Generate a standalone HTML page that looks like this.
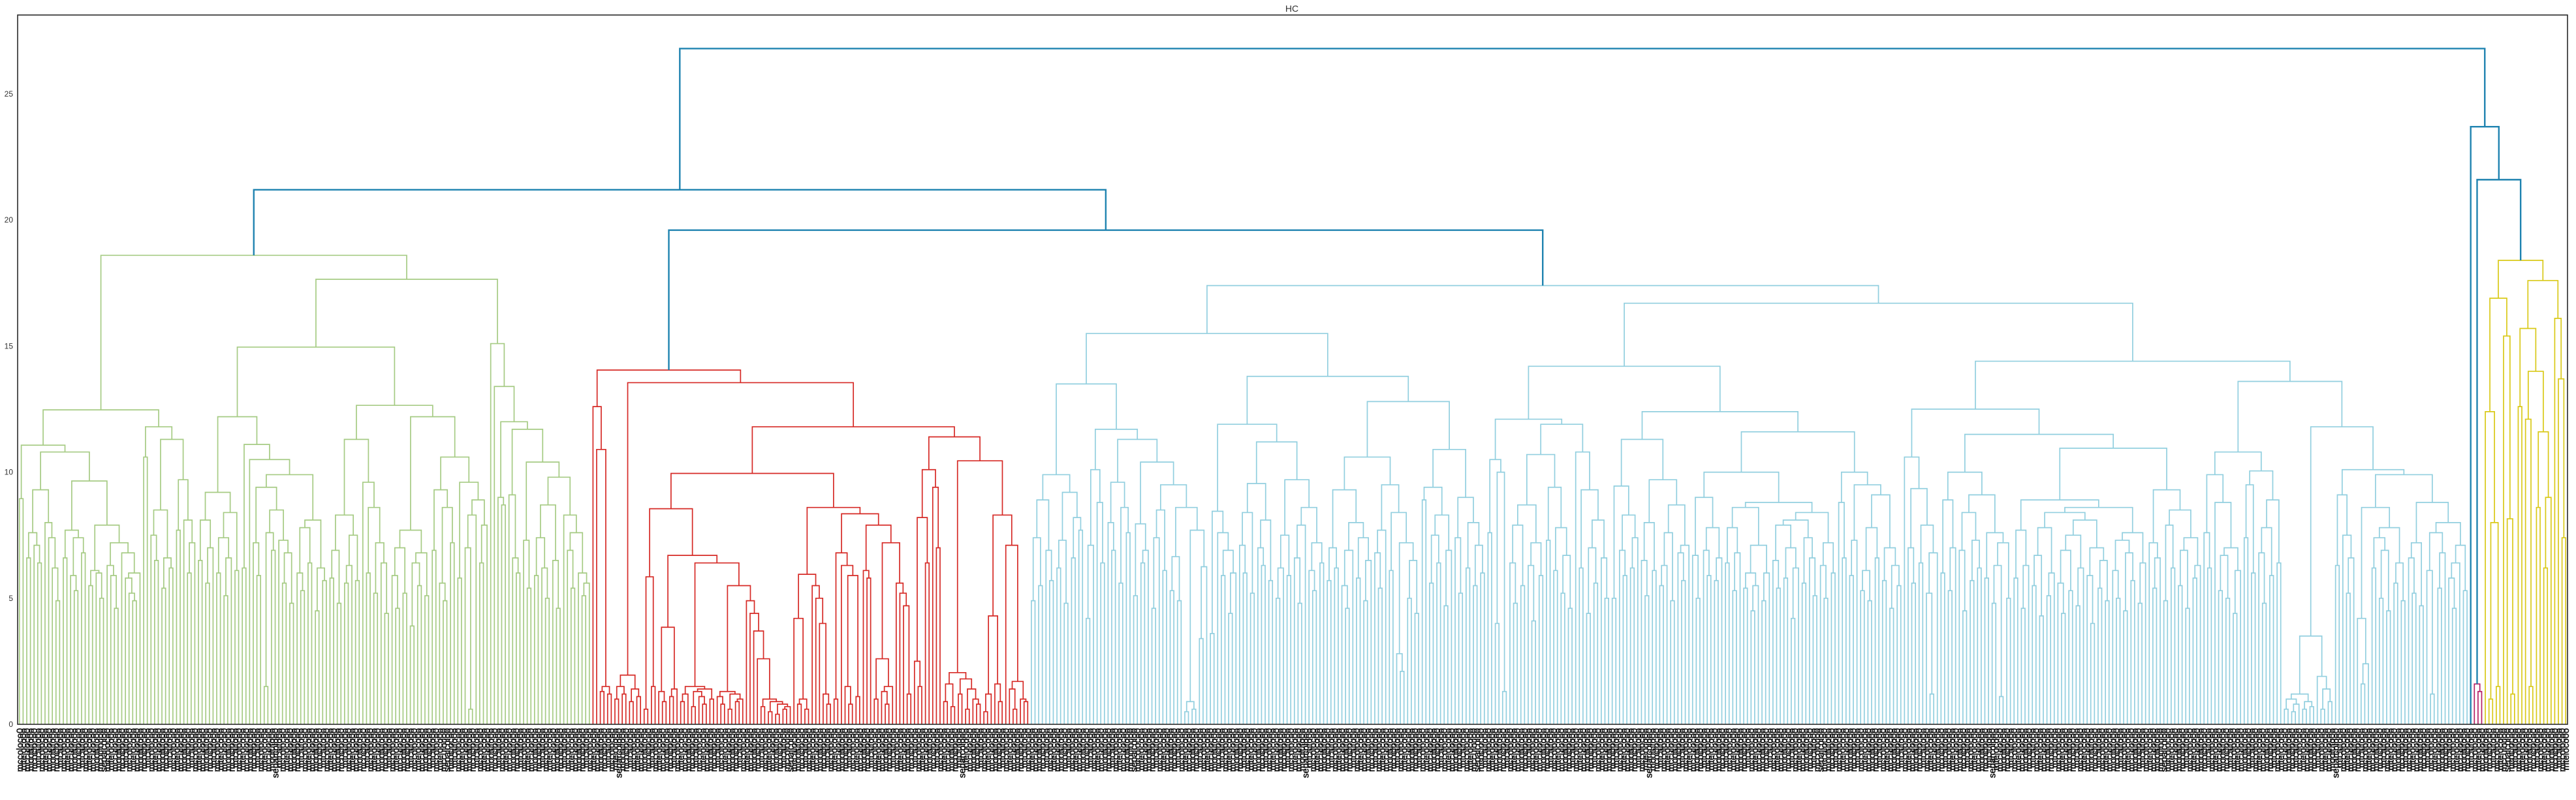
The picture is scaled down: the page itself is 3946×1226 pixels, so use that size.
<!DOCTYPE html>
<html><head><meta charset="utf-8"><title>HC</title>
<style>
html,body{margin:0;padding:0;background:#fff;}
svg{display:block;font-family:"Liberation Sans",sans-serif;}
</style></head>
<body>
<svg id="chart" width="3946" height="1226" viewBox="0 0 3946 1226" xmlns="http://www.w3.org/2000/svg">
<rect x="0" y="0" width="3946" height="1226" fill="#ffffff"/>
<text x="1979" y="18" font-size="14" fill="#333" text-anchor="middle">HC</text>
<g id="links" fill="none"></g>
<g id="yaxis"></g>
<g id="leaflabels"></g>
<rect x="27" y="23" width="3906" height="1087" fill="none" stroke="#2a2a2a" stroke-width="1.6"/>
</svg>
<script>
// merge heights between adjacent leaves, per cluster
const greenGaps = [8.95,11.07,6.6,7.6,7.1,6.4,9.3,8.0,7.4,6.2,4.9,10.8,6.6,7.7,5.9,5.3,7.4,6.8,9.65,5.5,6.1,6.0,5.0,7.9,6.3,5.9,4.6,7.2,6.8,5.8,5.2,4.9,6.0,
12.47,10.6,11.8,7.5,6.5,8.5,5.4,6.6,6.2,11.3,7.7,9.7,8.1,6.0,7.2,
18.6,6.5,8.1,5.6,7.0,9.2,6.0,7.4,5.1,6.6,8.4,6.1,12.2,6.2,11.1,10.5,7.2,5.9,9.4,1.5,7.6,6.9,8.5,7.3,5.6,6.8,4.8,9.9,6.0,5.3,7.8,6.4,8.1,4.5,6.2,5.7,
14.96,5.8,6.9,4.8,8.3,5.6,6.3,7.5,5.7,11.3,9.6,6.0,8.6,5.2,7.2,6.4,4.4,
12.65,5.9,4.6,7.0,5.2,7.7,3.9,6.4,5.5,6.8,5.1,12.2,6.9,9.3,5.6,4.9,8.6,7.2,10.6,5.8,9.6,7.0,0.6,8.3,8.9,6.4,7.9,
17.65,15.1,13.4,9.0,8.7,12.0,9.1,6.6,6.0,11.7,7.3,5.4,10.4,5.9,7.4,6.2,5.0,8.7,6.5,4.6,9.8,8.3,6.9,5.4,7.6,6.0,5.1,5.6];
const redGaps = [12.6,10.9,1.3,1.5,1.2,14.05,1.0,1.5,1.2,1.95,0.9,1.4,1.1,13.55,0.6,5.85,1.5,8.55,1.3,0.9,3.85,1.1,1.4,6.7,
0.9,1.2,1.5,0.7,1.3,1.1,0.8,1.4,1.0,6.4,1.1,0.8,1.3,0.6,1.2,0.9,1.0,5.5,4.9,4.4,3.7,2.6,0.7,1.0,0.5,0.9,0.4,0.8,0.6,0.7,
9.95,4.2,0.8,1.0,0.6,5.95,5.5,5.0,4.0,1.2,0.8,8.6,1.0,6.8,6.3,1.5,0.8,5.9,1.1,8.35,6.1,5.8,7.9,1.0,2.6,1.3,0.8,1.5,7.2,5.6,5.2,4.7,1.2,
11.8,2.5,1.5,8.2,6.4,10.1,9.4,7.0,11.4,0.9,1.6,0.7,2.05,1.2,1.8,0.6,1.4,1.0,0.8,10.45,0.5,1.2,4.3,1.6,0.9,8.3,7.1,1.4,0.6,1.7,1.0,0.9];
const lightBlueGaps = [4.9,7.4,5.5,8.9,6.9,5.7,9.9,6.2,7.3,4.8,9.2,6.6,8.2,7.7,13.5,4.2,7.1,10.1,8.8,6.4,11.7,8.0,6.9,9.6,5.6,8.6,7.6,11.3,
5.1,7.95,6.4,6.9,10.4,4.6,7.4,8.5,6.1,9.5,5.3,6.65,4.9,8.6,0.5,0.9,0.6,7.7,3.4,6.25,15.5,
3.6,8.45,7.6,5.9,6.9,4.4,6.0,11.9,7.1,6.0,8.4,5.2,9.55,7.0,6.3,8.1,5.7,11.2,5.0,6.2,7.5,5.9,9.7,6.6,4.8,7.9,8.6,6.1,5.3,7.2,6.4,13.8,
5.7,7.0,6.2,9.3,5.5,4.6,6.9,8.0,5.8,7.4,4.9,6.5,10.6,6.8,5.4,7.7,9.5,6.1,8.4,2.8,2.1,7.2,5.0,6.5,4.4,12.8,
8.9,9.4,5.6,7.5,6.4,8.3,4.7,6.9,10.9,7.4,5.2,9.0,6.2,8.0,5.5,7.1,6.0,17.4,
7.6,10.5,4.0,10.0,1.3,12.1,6.4,4.8,7.9,5.5,8.7,6.3,4.1,7.2,5.9,10.7,7.3,9.4,6.1,7.8,5.2,6.7,4.6,11.9,10.8,6.2,9.3,4.4,7.0,5.6,8.1,6.6,5.0,14.2,
5.0,9.45,6.9,5.9,8.3,6.2,7.4,11.3,6.5,5.1,8.0,6.1,9.7,5.5,6.3,7.6,4.9,8.7,6.8,5.7,7.1,12.4,
6.7,5.0,9.0,6.9,5.9,7.8,5.7,6.6,10.0,6.4,7.8,5.3,6.8,8.6,5.4,6.0,4.5,5.5,7.1,4.9,6.0,8.8,6.5,5.4,7.9,5.8,7.0,4.2,6.2,8.1,5.6,7.4,6.6,5.1,8.4,6.3,5.0,7.2,6.0,
11.6,8.8,6.6,10.0,5.9,7.3,9.5,5.3,6.1,4.9,7.8,6.6,9.1,5.7,7.0,4.6,6.3,5.5,16.7,
10.6,7.0,5.6,9.35,6.4,7.9,5.2,1.2,6.8,12.5,
6.0,8.9,5.3,7.0,10.0,6.9,4.5,8.4,5.7,7.3,6.2,9.1,5.8,7.6,4.8,6.3,1.1,7.2,5.0,11.5,
5.8,7.7,4.6,6.3,8.9,5.5,6.7,4.3,7.8,5.1,6.0,8.4,5.6,4.4,6.9,5.3,7.5,4.7,6.2,8.1,5.9,4.0,7.0,5.4,6.5,4.9,8.6,6.1,5.0,7.3,4.5,6.8,5.7,7.6,4.8,6.4,10.95,
7.2,5.4,6.6,9.3,4.9,7.9,6.2,8.5,5.5,6.9,4.6,7.4,5.8,6.3,14.4,
7.6,6.2,9.9,8.8,5.3,6.7,5.0,7.0,4.4,6.1,10.8,7.4,9.5,6.0,10.05,6.8,4.8,7.8,5.9,8.9,6.4,13.6,
0.6,1.0,0.5,0.8,1.2,0.6,0.9,0.7,3.5,1.9,0.6,1.4,0.9,11.8,6.3,9.1,7.5,5.2,6.6,10.1,
4.2,1.6,2.4,8.6,6.2,7.4,5.0,6.9,4.5,7.8,5.6,6.4,4.9,9.9,6.6,5.2,7.2,4.7,8.8,6.1,1.2,7.6,5.4,6.8,8.0,5.8,4.6,6.4,7.1,5.3];
const singleGaps = [];
const magentaGaps = [1.6,1.3];
const yellowGaps = [12.4,1.0,8.0,1.5,16.9,15.4,8.15,1.2,18.4,12.6,15.7,12.1,1.5,14.0,8.6,11.6,6.2,9.0,17.6,16.1,13.7,7.4];
// heights joining neighbouring clusters
const clusterJoins = [21.2,19.6,26.8,23.7,21.6];
const clusterNames = ["green","red","lightblue","single","magenta","yellow"];
const clusterColors = ["#a6cb84","#d62a26","#92cfdf","#1f83b0","#b51f66","#d9c918"];
const yTicks = [0,5,10,15,20,25];
const labelWords = ["mccoloco0","mteloco0o","mcculoco0","mooluto0o","mcocloco0","mtcluto0o"];
const longLabelWords = ["separcoloo0","sepalcolo0"];
const linkColorAbove = "#1f83b0";

const NS = "http://www.w3.org/2000/svg";
const X0 = 27, X1 = 3933, Y0 = 1110, PXU = 38.64;
const clusterGapLists = [greenGaps, redGaps, lightBlueGaps, singleGaps, magentaGaps, yellowGaps];
const gaps = [], leafCluster = [];
clusterGapLists.forEach((g, c) => {
  for (let i = 0; i <= g.length; i++) leafCluster.push(c);
  g.forEach(v => gaps.push(v));
  if (c < clusterJoins.length) gaps.push(clusterJoins[c]);
});
const N = leafCluster.length;
const xScale = i => X0 + (i + 0.5) * (X1 - X0) / N;
const yScale = h => Y0 - h * PXU;

function build(lo, hi) {
  if (lo === hi) return {x: xScale(lo), h: 0, c: leafCluster[lo], leaf: true};
  let k = lo;
  for (let i = lo; i < hi; i++) if (gaps[i] > gaps[k]) k = i;
  const L = build(lo, k), R = build(k + 1, hi);
  const c = (L.c === R.c && L.c >= 0) ? L.c : -1;
  return {x: (L.x + R.x) / 2, h: gaps[k], c: c, L: L, R: R};
}
const root = build(0, N - 1);
const linksG = document.getElementById("links");
function draw(n) {
  if (n.leaf) return;
  draw(n.L); draw(n.R);
  const p = document.createElementNS(NS, "path");
  p.setAttribute("d", "M" + n.L.x.toFixed(2) + " " + yScale(n.L.h).toFixed(2) +
    "V" + yScale(n.h).toFixed(2) + "H" + n.R.x.toFixed(2) + "V" + yScale(n.R.h).toFixed(2));
  const col = n.c >= 0 ? clusterColors[n.c] : linkColorAbove;
  p.setAttribute("stroke", col);
  p.setAttribute("stroke-width", n.c >= 0 ? "1.7" : "2.4");
  
  
  linksG.appendChild(p);
}
draw(root);

const yG = document.getElementById("yaxis");
yTicks.forEach(t => {
  const tx = document.createElementNS(NS, "text");
  tx.setAttribute("x", 20);
  tx.setAttribute("y", yScale(t) + 4);
  tx.setAttribute("font-size", "12");
  tx.setAttribute("fill", "#333");
  tx.setAttribute("text-anchor", "end");
  tx.textContent = String(t);
  
  
  yG.appendChild(tx);
});

const lG = document.getElementById("leaflabels");
for (let i = 0; i < N; i++) {
  const x = xScale(i);
  const tx = document.createElementNS(NS, "text");
  const word = (i % 47 === 23) ? longLabelWords[i % 2] : labelWords[i % labelWords.length];
  tx.setAttribute("transform", "translate(" + (x + 5).toFixed(2) + "," + (Y0 + 6) + ") rotate(-90)");
  tx.setAttribute("font-size", "14");
  tx.setAttribute("fill", "#111");
  tx.setAttribute("stroke", "#111");
  tx.setAttribute("stroke-width", "0.5");
  tx.setAttribute("text-anchor", "end");
  tx.textContent = word;
  
  
  lG.appendChild(tx);
}
</script>
</body></html>
